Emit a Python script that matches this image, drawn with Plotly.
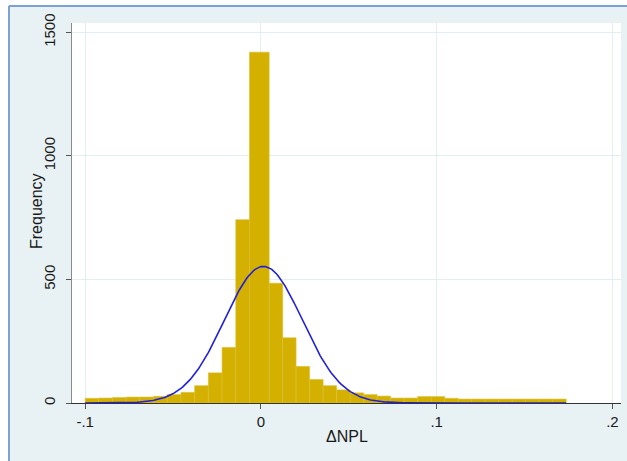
import numpy as np
import plotly.graph_objects as go

# ---- data ----
bin_edges = [-0.1000, -0.0923, -0.0845, -0.0767, -0.0689, -0.0611, -0.0533, -0.0455,
             -0.0377, -0.0299, -0.0221, -0.0143, -0.0065, 0.0047, 0.0124, 0.0200,
             0.0277, 0.0354, 0.0431, 0.0508, 0.0585, 0.0661, 0.0738, 0.0815,
             0.0892, 0.0969, 0.1046, 0.1122, 0.1199, 0.1276, 0.1353, 0.1430,
             0.1507, 0.1583, 0.1660, 0.1737]
frequency = [19, 20, 22, 24, 24, 27, 34, 43, 70, 122, 225, 742, 1420,
             485, 264, 148, 95, 70, 53, 41, 34, 28, 20, 20, 26, 26, 19,
             16, 16, 16, 16, 16, 16, 16, 16]
normal_mean = 0.0014
normal_sd = 0.0222
normal_peak = 553
x_ticks = [-0.1, 0, 0.1, 0.2]
x_tick_labels = ["-.1", "0", ".1", ".2"]
y_ticks = [0, 500, 1000, 1500]
y_tick_labels = ["0", "500", "1000", "1500"]
x_title = "ΔNPL"
y_title = "Frequency"

edges = np.array(bin_edges)
centers = (edges[:-1] + edges[1:]) / 2
widths = edges[1:] - edges[:-1]

curve_x = np.linspace(bin_edges[0], bin_edges[-1], 400)
curve_y = normal_peak * np.exp(-0.5 * ((curve_x - normal_mean) / normal_sd) ** 2)

W, H = 627, 461
ML, MR, MT, MB = 72, 6, 23, 58
PW, PH = W - ML - MR, H - MT - MB

def px(x):
    return (x - ML) / PW

def py(y):
    return (H - MB - y) / PH

BG = "#E8F1F3"
FONT = "Liberation Sans, Arial, sans-serif"

fig = go.Figure()
fig.add_trace(go.Bar(
    x=centers, y=frequency, width=widths,
    marker=dict(color="#D4B000", line=dict(color="#DCC030", width=0.6)),
    hoverinfo="skip", showlegend=False,
))
fig.add_trace(go.Scatter(
    x=curve_x, y=curve_y, mode="lines",
    line=dict(color="#1F1FE0", width=1.6),
    hoverinfo="skip", showlegend=False,
))

shapes = [
    dict(type="rect", xref="paper", yref="paper", x0=px(-2), x1=px(W + 2), y0=py(6), y1=py(-2),
         fillcolor="white", line=dict(width=0), layer="below"),
    dict(type="rect", xref="paper", yref="paper", x0=px(-2), x1=px(9), y0=py(H + 2), y1=py(-2),
         fillcolor="white", line=dict(width=0), layer="below"),
    dict(type="line", xref="paper", yref="paper", x0=px(9), x1=px(W + 2), y0=py(6), y1=py(6),
         line=dict(color="#7AA3D4", width=2)),
    dict(type="line", xref="paper", yref="paper", x0=px(9), x1=px(9), y0=py(6), y1=py(H + 2),
         line=dict(color="#7AA3D4", width=2)),
]

annotations = [
    dict(text=y_title, xref="paper", yref="paper", x=px(36), y=py(211),
         xanchor="center", yanchor="middle", textangle=-90, showarrow=False,
         font=dict(size=16, color="#1A1A1A")),
    dict(text=x_title, xref="paper", yref="paper", x=0.5, y=py(436),
         xanchor="center", yanchor="middle", showarrow=False,
         font=dict(size=16, color="#1A1A1A")),
]

fig.update_layout(
    width=W, height=H,
    margin=dict(l=ML, r=MR, t=MT, b=MB, pad=0, autoexpand=False),
    paper_bgcolor=BG, plot_bgcolor="white",
    bargap=0, shapes=shapes, annotations=annotations,
    font=dict(family=FONT, size=15, color="#1A1A1A"),
    xaxis=dict(
        automargin=False,
        range=[-0.1075, 0.2049], tickvals=x_ticks, ticktext=x_tick_labels,
        showgrid=True, gridcolor="#E3EEF0", gridwidth=1,
        zeroline=False, showline=True, linecolor="#333333", linewidth=1,
        ticks="outside", ticklen=5, tickcolor="#555555",
        tickfont=dict(size=15),
    ),
    yaxis=dict(
        automargin=False,
        range=[0, 1538], tickvals=y_ticks, ticktext=y_tick_labels,
        tickangle=-90, ticklabelstandoff=5,
        showgrid=True, gridcolor="#E3EEF0", gridwidth=1,
        zeroline=False, showline=True, linecolor="#8A8A8A", linewidth=1,
        ticks="outside", ticklen=5, tickcolor="#555555",
        tickfont=dict(size=15),
    ),
)

fig.write_html(
    "out.html",
    config={"displayModeBar": False, "staticPlot": True},
    post_script="document.body.style.margin='0';document.body.style.overflow='hidden';",
)
